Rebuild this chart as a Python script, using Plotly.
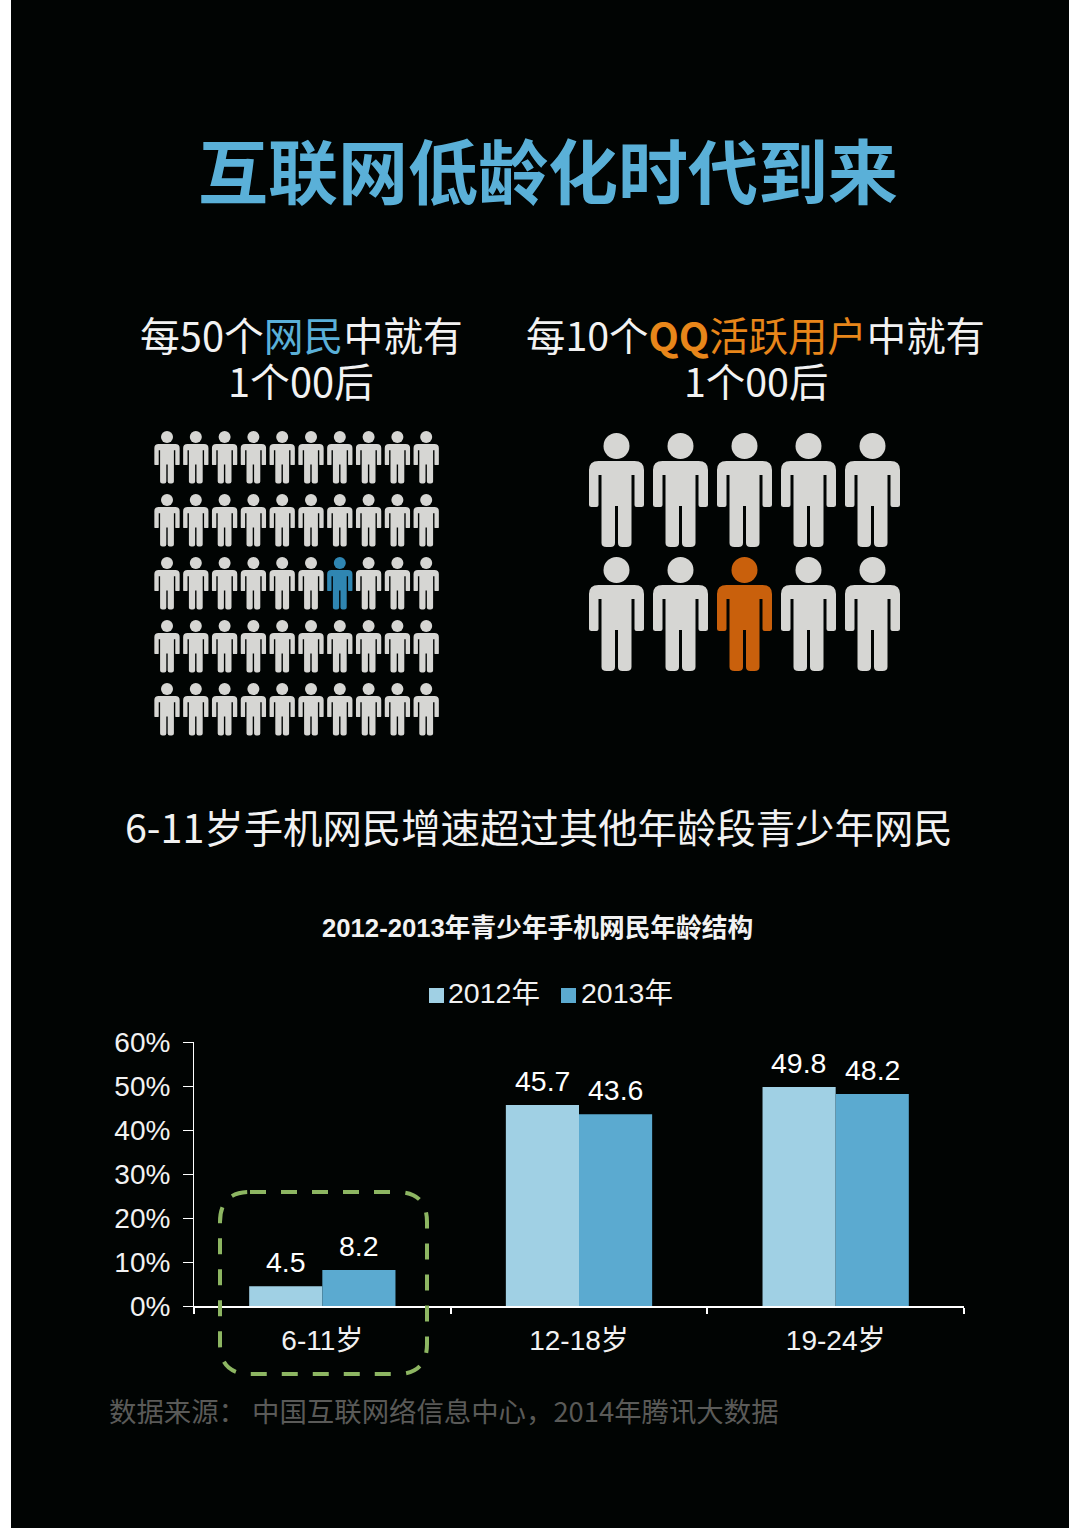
import plotly.graph_objects as go

# chart data
age_groups = ["6-11岁", "12-18岁", "19-24岁"]
share_2012 = [4.5, 45.7, 49.8]
share_2013 = [8.2, 43.6, 48.2]
pct_ticks = [0, 10, 20, 30, 40, 50, 60]
pct_labels = ["0%", "10%", "20%", "30%", "40%", "50%", "60%"]

# pictogram data: 1 in 50 and 1 in 10
netizen_cols = 10
netizen_rows = 5
netizen_pick = (7, 3)
qq_cols = 5
qq_rows = 2
qq_pick = (3, 2)

W = 1080
H = 1528
BG = "#010403"
GREY = "#D6D6D3"
BLUE = "#5BAAD0"
LIGHT = "#A0D0E4"
PICK_BLUE = "#2F86B2"
ORANGE = "#C9600C"
CJK = "Noto Sans CJK SC"
LATIN = "Liberation Sans, Noto Sans CJK SC"


def px(x):
    return x / W


def py(y):
    return 1 - y / H


def body_path(s):
    # outline of one person, relative to the centre of the head, in pixels
    pts = [
        ("M", -18, 15), ("L", 18, 15), ("Q", 27.5, 15, 27.5, 24), ("L", 27.5, 59),
        ("Q", 27.5, 61, 25, 61), ("L", 20, 61), ("Q", 18, 61, 18, 59), ("L", 18, 29),
        ("L", 15, 29), ("L", 15, 97), ("Q", 15, 101, 10, 101), ("L", 6, 101),
        ("Q", 1.5, 101, 1.5, 97), ("L", 1.5, 60), ("L", -1.5, 60), ("L", -1.5, 97),
        ("Q", -1.5, 101, -6, 101), ("L", -10, 101), ("Q", -15, 101, -15, 97),
        ("L", -15, 29), ("L", -18, 29), ("L", -18, 59), ("Q", -18, 61, -20, 61),
        ("L", -25, 61), ("Q", -27.5, 61, -27.5, 59), ("L", -27.5, 24),
        ("Q", -27.5, 15, -18, 15),
    ]
    out = []
    for p in pts:
        nums = [v * s for v in p[1:]]
        # y offsets count upwards in pixel sizing mode
        coords = [str(round(v if i % 2 == 0 else -v, 2)) for i, v in enumerate(nums)]
        out.append(p[0] + " " + " ".join(coords))
    return " ".join(out) + " Z"


def add_people(fig, cols, rows, pick, color, xname, yname, s, head):
    all_x = [c for r in range(1, rows + 1) for c in range(1, cols + 1)]
    all_y = [r for r in range(1, rows + 1) for c in range(1, cols + 1)]
    colors = [color if (x, y) == pick else GREY for x, y in zip(all_x, all_y)]
    fig.add_trace(go.Scatter(x=all_x, y=all_y, mode="markers", xaxis=xname, yaxis=yname,
                             marker=dict(size=head, color=colors, line=dict(width=0)),
                             hoverinfo="skip", showlegend=False))
    path = body_path(s)
    for x, y, c in zip(all_x, all_y, colors):
        fig.add_shape(type="path", path=path, xref=xname, yref=yname,
                      xsizemode="pixel", ysizemode="pixel", xanchor=x, yanchor=y,
                      fillcolor=c, line=dict(width=0))


def note(text, x, y, size, color="#F2F2F2", family=CJK, anchor="center"):
    fig.add_annotation(text=text, xref="paper", yref="paper", x=px(x), y=py(y),
                       xanchor=anchor, yanchor="middle", showarrow=False,
                       font=dict(size=size, color=color, family=family))


def bar_labels(values, shift):
    # value labels sit a little higher than textposition="outside" puts them
    for cat, v in zip(age_groups, values):
        fig.add_annotation(text=str(v), x=cat, y=v, xref="x", yref="y", xshift=shift, yshift=24,
                           xanchor="center", yanchor="middle", showarrow=False,
                           font=dict(size=28.5, color="white", family=LATIN))


fig = go.Figure()

fig.add_trace(go.Bar(x=age_groups, y=share_2012, name="2012年", marker=dict(color=LIGHT, line=dict(width=0))))
fig.add_trace(go.Bar(x=age_groups, y=share_2013, name="2013年", marker=dict(color=BLUE, line=dict(width=0))))

add_people(fig, netizen_cols, netizen_rows, netizen_pick, PICK_BLUE, "x2", "y2", 0.46, 12)
add_people(fig, qq_cols, qq_rows, qq_pick, ORANGE, "x3", "y3", 1, 26)

fig.update_layout(
    width=W, height=H, autosize=False,
    margin=dict(l=0, r=0, t=0, b=0, autoexpand=False),
    paper_bgcolor="white", plot_bgcolor="rgba(0,0,0,0)",
    barmode="group", bargap=0.43, bargroupgap=0,
    showlegend=False,
    font=dict(family=LATIN, color="#F2F2F2"),
    xaxis=dict(domain=[px(194), px(964)], tickson="boundaries", ticks="outside", ticklen=6,
               tickcolor="white", tickwidth=1.5, linecolor="white", linewidth=2,
               showgrid=False, tickfont=dict(size=28, family=LATIN, color="#F2F2F2"),
               ticklabelstandoff=8, anchor="y"),
    yaxis=dict(domain=[py(1306), py(1042)], range=[0, 60], tickvals=pct_ticks, ticktext=pct_labels,
               ticks="outside", ticklen=10, tickcolor="white", tickwidth=1, linecolor="white",
               linewidth=1, showgrid=False, zeroline=False, ticklabelstandoff=7,
               tickfont=dict(size=28, family=LATIN, color="#F2F2F2"), anchor="x"),
    xaxis2=dict(domain=[px(152.6), px(440.6)], range=[0.5, 10.5], visible=False, anchor="y2"),
    yaxis2=dict(domain=[py(752), py(405.5)], range=[6, 0.5], visible=False, anchor="x2"),
    xaxis3=dict(domain=[px(584.5), px(904.5)], range=[0.5, 5.5], visible=False, anchor="y3"),
    yaxis3=dict(domain=[py(694), py(384)], range=[3, 0.5], visible=False, anchor="x3"),
)

# black page panel
fig.add_shape(type="rect", xref="paper", yref="paper", x0=px(11), x1=px(1069), y0=0, y1=1,
              fillcolor=BG, line=dict(width=0), layer="below")

# dashed box around 6-11
r = 30
x0, x1, y0, y1 = 220, 427, 1192, 1374
box = (f"M {px(x0 + r)} {py(y0)} L {px(x1 - r)} {py(y0)} Q {px(x1)} {py(y0)} {px(x1)} {py(y0 + r)} "
       f"L {px(x1)} {py(y1 - r)} Q {px(x1)} {py(y1)} {px(x1 - r)} {py(y1)} "
       f"L {px(x0 + r)} {py(y1)} Q {px(x0)} {py(y1)} {px(x0)} {py(y1 - r)} "
       f"L {px(x0)} {py(y0 + r)} Q {px(x0)} {py(y0)} {px(x0 + r)} {py(y0)} Z")
fig.add_shape(type="path", path=box, xref="paper", yref="paper",
              line=dict(color="#8DB662", width=4, dash="16px,15px"))

# legend squares
fig.add_shape(type="rect", xref="paper", yref="paper", x0=px(429), x1=px(444), y0=py(1003), y1=py(988),
              fillcolor=LIGHT, line=dict(width=0))
fig.add_shape(type="rect", xref="paper", yref="paper", x0=px(561), x1=px(576), y0=py(1003), y1=py(988),
              fillcolor=BLUE, line=dict(width=0))

bar_labels(share_2012, -36.7)
bar_labels(share_2013, 36.7)

note("<b>互联网低龄化时代到来</b>", 548, 168, 70, color="#5AB0D8")
note('每50个<span style="color:#5AB0D8">网民</span>中就有', 301, 334, 39.8)
note("1个00后", 301, 380, 39.8)
note('每10个<span style="color:#E8861A"><b>QQ</b>活跃用户</span>中就有', 755, 334, 39.4)
note("1个00后", 756, 380, 39.4)
note("6-11岁手机网民增速超过其他年龄段青少年网民", 539, 825, 39.4)
note("<b>2012-2013年青少年手机网民年龄结构</b>", 537, 928, 25.7, family=LATIN)
note("2012年", 446, 993, 28.5, family=LATIN, anchor="left")
note("2013年", 579, 993, 28.5, family=LATIN, anchor="left")
note("数据来源： 中国互联网络信息中心，2014年腾讯大数据", 444, 1410, 27.4, color="#5A5A58")

fig.write_html("out.html", config=dict(displayModeBar=False),
               post_script="document.body.style.margin='0';")
